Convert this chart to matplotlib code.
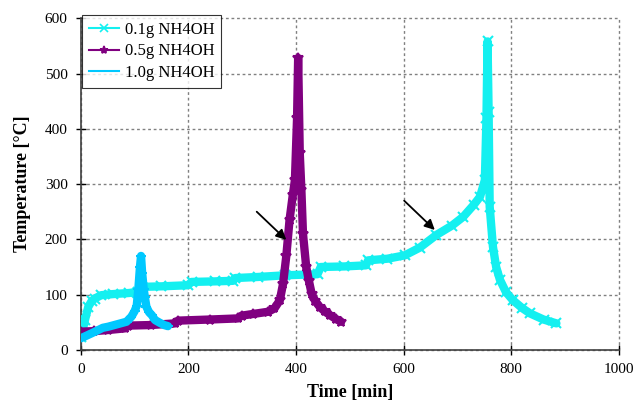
import numpy as np
import matplotlib
matplotlib.use("Agg")
import matplotlib.pyplot as plt
from matplotlib.lines import Line2D

plt.rcParams["font.family"] = ["Liberation Serif", "DejaVu Serif"]

# ------------------------------------------------------------
# data (time in min, temperature in C)
# ------------------------------------------------------------
t_01 = [0, 4, 8, 14, 20, 26, 38, 60, 90, 106, 113, 150, 199, 206, 250, 283,
        287, 330, 380, 440, 446, 490, 530, 534, 570, 602, 630, 661, 690, 711,
        730, 742, 751, 754, 756, 758, 760, 766, 772, 779, 790, 803, 820, 835,
        860, 884]
T_01 = [24, 38, 55, 78, 88, 93, 99, 101, 103, 105, 114, 115, 117, 123, 124, 125,
        130, 132, 135, 137, 150, 151, 153, 162, 165, 171, 185, 208, 225, 241,
        262, 277, 307, 420, 558, 430, 259, 187, 150, 127, 105, 90, 76, 66,
        55, 48]

t_05 = [0, 25, 51, 82, 88, 130, 175, 181, 240, 292, 299, 320, 348, 360, 370,
        376, 382, 388, 394, 398, 402, 404, 407, 410, 413, 419, 424, 429, 436,
        444, 453, 463, 474, 484]
T_05 = [33, 34, 36, 39, 44, 45, 48, 53, 55, 57, 62, 65, 69, 75, 90,
        120, 170, 235, 280, 307, 420, 528, 356, 290, 210, 150, 125, 102, 88,
        78, 70, 63, 56, 51]

t_10 = [0, 20, 41, 51, 70, 85, 94, 100, 104, 107, 110, 112, 114, 117, 119, 122,
        127, 132, 138, 147, 155, 162]
T_10 = [21, 30, 40, 42, 47, 51, 60, 70, 80, 110, 150, 170, 140, 110, 96, 78,
        68, 63, 54, 49, 45, 43]

labels = ["0.1g NH4OH", "0.5g NH4OH", "1.0g NH4OH"]
colors = ["#14F0F0", "#800080", "#00C8FF"]
markers = ["x", "*", "_"]

# arrows (tail, head)
arrows = [((327, 250), (382, 199)), ((601, 270), (658, 217))]

fig = plt.figure(figsize=(6.36, 4.05), dpi=100)
ax = fig.add_axes([0.127, 0.136, 0.846, 0.819])

series = [(t_01, T_01), (t_05, T_05), (t_10, T_10)]
for (t, T), c, m in zip(series, colors, markers):
    ax.plot(t, T, color=c, lw=6, solid_capstyle="round", zorder=3)
    ax.plot(t, T, linestyle="none", marker=m, ms=7, mew=1.5, color=c, zorder=3)

for tail, head in arrows:
    ax.annotate("", xy=head, xytext=tail,
                arrowprops=dict(arrowstyle="-|>", color="black", lw=1.3,
                                mutation_scale=15, shrinkA=0, shrinkB=0),
                zorder=5)

ax.set_xlim(0, 1000)
ax.set_ylim(0, 600)
ax.set_xticks(np.arange(0, 1001, 200))
ax.set_yticks(np.arange(0, 601, 100))
ax.tick_params(direction="inout", length=7, width=1, labelsize=11, pad=6)
ax.grid(True, color="#808080", linestyle=(0, (2, 2)), linewidth=1)
for g in ax.get_xgridlines() + ax.get_ygridlines():
    g.set_clip_on(False)
ax.set_axisbelow(True)

for side in ["top", "right"]:
    ax.spines[side].set_visible(False)
for side in ["left", "bottom"]:
    ax.spines[side].set_color("#404040")
    ax.spines[side].set_linewidth(1.2)

ax.set_xlabel("Time [min]", fontsize=13, fontweight="bold", labelpad=6)
ax.set_ylabel("Temperature [°C]", fontsize=13, fontweight="bold", labelpad=10)

handles = [Line2D([], [], color=c, marker=m, lw=1.5, ms=6, mew=1.2)
           for c, m in zip(colors, markers)]
leg = ax.legend(handles, labels, loc="upper left", bbox_to_anchor=(0.002, 1.01),
                borderaxespad=0, fontsize=12, frameon=True, fancybox=False,
                edgecolor="black", handlelength=1.8, handletextpad=0.4,
                labelspacing=0.35, borderpad=0.4)
leg.get_frame().set_linewidth(0.8)
leg.set_zorder(10)

fig.savefig("out.png", dpi=100)
